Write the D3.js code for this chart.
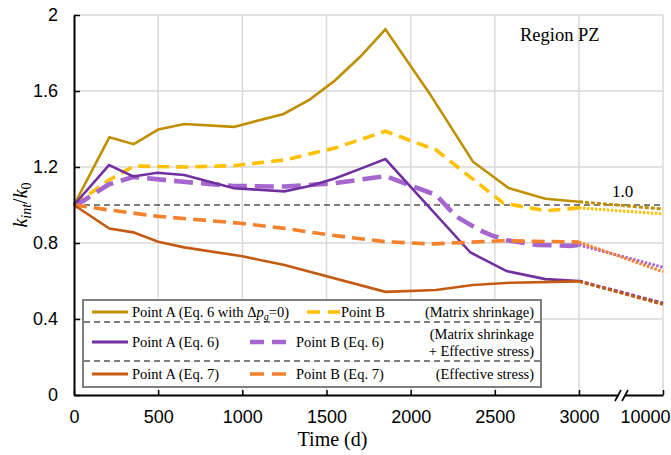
<!DOCTYPE html>
<html>
<head>
<meta charset="utf-8">
<script src="https://cdn.jsdelivr.net/npm/d3@7"></script>
<style>
  body { margin: 0; background: #fff; }
  svg { display: block; font-family: "Liberation Serif", "Times New Roman", serif; }
</style>
</head>
<body>
<div id="chart"></div>
<script>
// series: [time (d), k_int/k_0]
const pointA_eq6_dp0 = [[0, 1.0], [210, 1.356], [355, 1.32], [500, 1.397], [655, 1.426], [950, 1.411], [1245, 1.479],
  [1400, 1.555], [1550, 1.655], [1700, 1.78], [1850, 1.925], [2110, 1.59], [2370, 1.228], [2580, 1.09],
  [2800, 1.033], [3000, 1.017], [10000, 0.979]];
const pointB_matrix = [[0, 1.0], [205, 1.13], [355, 1.205], [650, 1.2], [950, 1.207], [1250, 1.237], [1550, 1.3],
  [1850, 1.388], [2150, 1.29], [2550, 1.01], [2800, 0.97], [3000, 0.985], [10000, 0.953]];
const pointA_eq6 = [[0, 1.0], [208, 1.21], [352, 1.15], [495, 1.17], [655, 1.158], [950, 1.088], [1250, 1.072],
  [1400, 1.1], [1550, 1.14], [1700, 1.19], [1850, 1.242], [2355, 0.75], [2570, 0.652], [2800, 0.61],
  [3000, 0.6], [10000, 0.483]];
const pointB_eq6 = [[0, 0.99], [205, 1.108], [355, 1.148], [650, 1.122], [950, 1.1], [1250, 1.097], [1550, 1.115],
  [1850, 1.152], [2150, 1.053], [2270, 0.94], [2400, 0.872], [2480, 0.84], [2570, 0.815], [2750, 0.79],
  [2950, 0.785], [3000, 0.79], [10000, 0.672]];
const pointA_eq7 = [[0, 1.0], [210, 0.876], [352, 0.856], [500, 0.807], [655, 0.777], [1000, 0.73], [1250, 0.684],
  [1850, 0.543], [2150, 0.553], [2370, 0.579], [2600, 0.591], [3000, 0.598], [10000, 0.477]];
const pointB_eq7 = [[0, 1.0], [200, 0.975], [500, 0.94], [1000, 0.903], [1250, 0.877], [1520, 0.842], [1850, 0.807],
  [2120, 0.795], [2550, 0.812], [3000, 0.805], [10000, 0.649]];

const xTicks = [0, 500, 1000, 1500, 2000, 2500, 3000, 10000];
const yTicks = [0, 0.4, 0.8, 1.2, 1.6, 2];
const refValue = 1.0;

const series = [
  { data: pointA_eq6_dp0, color: '#bf8f00', width: 2.6, dash: null },
  { data: pointB_matrix, color: '#ffc000', width: 3.6, dash: '12,7' },
  { data: pointB_eq6, color: '#a566d0', width: 4.6, dash: '19,8' },
  { data: pointA_eq6, color: '#7030a0', width: 2.6, dash: null },
  { data: pointB_eq7, color: '#f4812c', width: 3.6, dash: '13,7' },
  { data: pointA_eq7, color: '#c55a11', width: 2.6, dash: null }
];

const W = 671, H = 455;
const x = d3.scaleLinear().domain([0, 3000, 10000]).range([74, 579, 663]);
const y = d3.scaleLinear().domain([0, 2]).range([395, 15]);

const svg = d3.select('#chart').append('svg').attr('width', W).attr('height', H);

// grid
svg.append('g')
  .selectAll('line')
  .data(xTicks.slice(1))
  .join('line')
  .attr('x1', d => x(d)).attr('x2', d => x(d))
  .attr('y1', y(0)).attr('y2', y(2))
  .attr('stroke', '#d9d9d9').attr('stroke-width', 1.5);
svg.append('g')
  .selectAll('line')
  .data(yTicks.slice(1))
  .join('line')
  .attr('x1', x(0)).attr('x2', x(10000))
  .attr('y1', d => y(d)).attr('y2', d => y(d))
  .attr('stroke', '#d9d9d9').attr('stroke-width', 1.5);

// reference line at 1.0
svg.append('line')
  .attr('x1', x(0)).attr('x2', x(10000))
  .attr('y1', y(refValue)).attr('y2', y(refValue))
  .attr('stroke', '#000').attr('stroke-width', 1.2).attr('stroke-dasharray', '6,4');
svg.append('text')
  .attr('x', 612).attr('y', y(refValue) - 8)
  .style('font-size', '17px')
  .text('1.0');

svg.append('text')
  .attr('x', 520).attr('y', 41)
  .style('font-size', '18.5px')
  .text('Region PZ');

// series lines, dotted after the axis break
const line = d3.line().x(d => x(d[0])).y(d => y(d[1]));
series.forEach(s => {
  const main = s.data.filter(d => d[0] <= 3000);
  const tail = s.data.filter(d => d[0] >= 3000);
  svg.append('path')
    .attr('d', line(main))
    .attr('fill', 'none')
    .attr('stroke', s.color)
    .attr('stroke-width', s.width)
    .attr('stroke-dasharray', s.dash);
  svg.append('path')
    .attr('d', line(tail))
    .attr('fill', 'none')
    .attr('stroke', s.color)
    .attr('stroke-width', 3)
    .attr('stroke-dasharray', s.dash ? '2.5,1.5' : '4,2');
});

// axes
const xAxis = svg.append('g')
  .attr('transform', 'translate(0,' + y(0) + ')')
  .call(d3.axisBottom(x).tickValues(xTicks).tickSizeInner(-5).tickSizeOuter(0).tickPadding(15).tickFormat(d3.format('d')));
xAxis.select('.domain').attr('stroke-width', 2);
xAxis.selectAll('.tick line').attr('stroke-width', 1.5);
xAxis.selectAll('text').style('font-size', '18px').attr('fill', '#000');
// last label sits left of its tick, as in the figure
xAxis.selectAll('.tick')
  .filter(d => d === 10000)
  .select('text')
  .attr('text-anchor', 'end')
  .attr('x', 7);

const yAxis = svg.append('g')
  .attr('transform', 'translate(' + x(0) + ',0)')
  .call(d3.axisLeft(y).tickValues(yTicks).tickSizeInner(-6).tickSizeOuter(0).tickPadding(16).tickFormat(d => d));
yAxis.select('.domain').attr('stroke-width', 2);
yAxis.selectAll('.tick line').attr('stroke-width', 1.5);
yAxis.selectAll('text').style('font-size', '18px').attr('fill', '#000');

// axis break marks
const bx = 621;
svg.append('rect').attr('x', bx - 2).attr('y', y(0) - 3).attr('width', 6).attr('height', 6).attr('fill', '#fff');
[bx - 3, bx + 4].forEach(px => {
  svg.append('line')
    .attr('x1', px - 3).attr('y1', y(0) + 6)
    .attr('x2', px + 3).attr('y2', y(0) - 5)
    .attr('stroke', '#000').attr('stroke-width', 1.6);
});

// axis titles
svg.append('text')
  .attr('x', x(1500) + 6).attr('y', 446)
  .attr('text-anchor', 'middle')
  .style('font-size', '20px')
  .text('Time (d)');

const yl = svg.append('text')
  .attr('transform', 'translate(27,205) rotate(-90)')
  .attr('text-anchor', 'middle')
  .style('font-size', '20px');
yl.append('tspan').style('font-style', 'italic').text('k');
yl.append('tspan').style('font-style', 'italic').style('font-size', '14px').attr('dy', 4).text('int');
yl.append('tspan').attr('dy', -4).text('/');
yl.append('tspan').style('font-style', 'italic').text('k');
yl.append('tspan').style('font-size', '14px').attr('dy', 4).text('0');

// legend
const lg = svg.append('g');
lg.append('rect')
  .attr('x', 83).attr('y', 300).attr('width', 458).attr('height', 87)
  .attr('fill', '#fff').attr('stroke', '#7f7f7f').attr('stroke-width', 2);
[322, 361].forEach(py => {
  lg.append('line')
    .attr('x1', 84).attr('x2', 540).attr('y1', py).attr('y2', py)
    .attr('stroke', '#000').attr('stroke-width', 1.2).attr('stroke-dasharray', '6,4');
});

const legendRows = [
  { cy: 312, a: series[0], b: series[1], bx: 307, right: ['(Matrix shrinkage)'] },
  { cy: 342, a: series[3], b: series[2], bx: 250, right: ['(Matrix shrinkage', '+ Effective stress)'] },
  { cy: 374, a: series[5], b: series[4], bx: 250, right: ['(Effective stress)'] }
];
const legendA = ['Point A (Eq. 6 with ', 'Point A (Eq. 6)', 'Point A (Eq. 7)'];
const legendB = ['Point B', 'Point B (Eq. 6)', 'Point B (Eq. 7)'];

legendRows.forEach((r, i) => {
  lg.append('line')
    .attr('x1', 92).attr('x2', 128).attr('y1', r.cy).attr('y2', r.cy)
    .attr('stroke', r.a.color).attr('stroke-width', 3);
  const ta = lg.append('text').attr('x', 132).attr('y', r.cy + 5).style('font-size', '14.5px');
  ta.append('tspan').text(legendA[i]);
  if (i === 0) {
    ta.append('tspan').text('Δ');
    ta.append('tspan').style('font-style', 'italic').text('p');
    ta.append('tspan').style('font-style', 'italic').style('font-size', '10px').attr('dy', 3).text('g');
    ta.append('tspan').attr('dy', -3).text('=0)');
  }
  const bw = i === 0 ? 33 : 40;
  lg.append('line')
    .attr('x1', r.bx).attr('x2', r.bx + bw).attr('y1', r.cy).attr('y2', r.cy)
    .attr('stroke', r.b.color).attr('stroke-width', r.b.width)
    .attr('stroke-dasharray', i === 0 ? '13,8' : '14,8');
  lg.append('text')
    .attr('x', r.bx + bw + (i === 0 ? 1 : 6)).attr('y', r.cy + 5)
    .style('font-size', '14.5px')
    .text(legendB[i]);
  r.right.forEach((t, j) => {
    lg.append('text')
      .attr('x', 534).attr('y', r.cy + 5 + (r.right.length > 1 ? (j - 0.5) * 17 : 0))
      .attr('text-anchor', 'end')
      .style('font-size', '14.5px')
      .text(t);
  });
});
</script>
</body>
</html>
